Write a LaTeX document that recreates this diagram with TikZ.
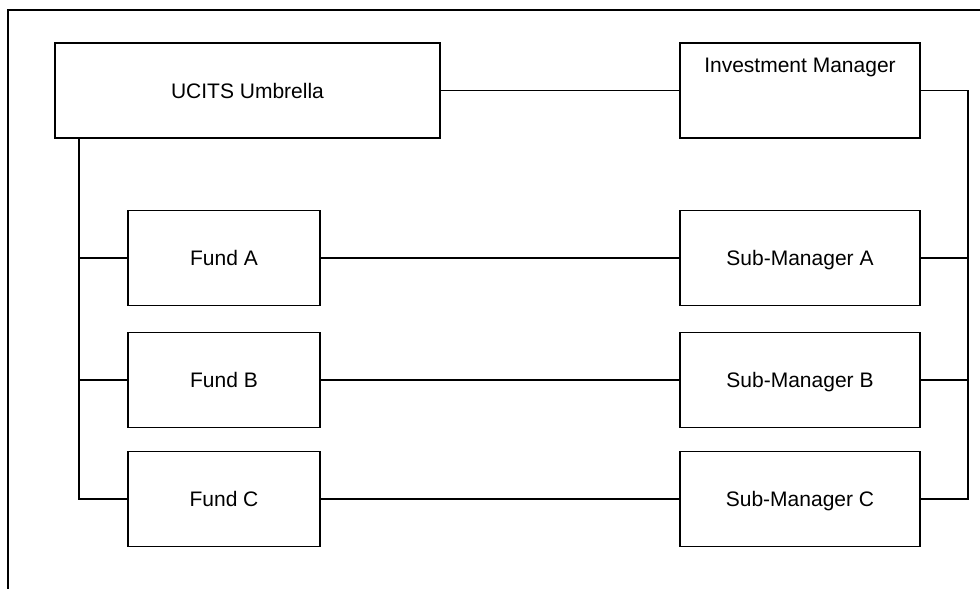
\documentclass[tikz,border=0pt]{standalone}
\usepackage{fontspec}
\setmainfont{Liberation Sans}
\begin{document}
\begin{tikzpicture}[x=1pt,y=-1pt,
  every node/.style={font=\fontsize{21}{25}\selectfont},
  box/.style={draw,line width=1.7pt,inner sep=0pt,minimum height=95pt,text height=15pt,text depth=0pt},
  fundbox/.style={box,minimum width=192pt},
  mgrbox/.style={box,minimum width=240pt},
  link/.style={line width=1.7pt}]
\useasboundingbox (0,0) rectangle (980,589);
% frame (top and left edges visible)
\coordinate (ftr) at (981,10);
\coordinate (ftl) at (8,10);
\coordinate (fbl) at (8,590);
\draw[link,line cap=rect] (ftr) -- (ftl) -- (fbl);
% boxes
\node[box,minimum width=385pt] (ucits) at (247.5,90.5) {UCITS Umbrella};
\node[mgrbox,text height=15pt,text depth=51pt] (im) at (800,90.5) {Investment Manager};
\node[fundbox] (fa) at (224,258) {Fund A};
\node[fundbox] (fb) at (224,380) {Fund B};
\node[fundbox] (fc) at (224,499) {Fund C};
\node[mgrbox] (sa) at (800,258) {Sub-Manager A};
\node[mgrbox] (sb) at (800,380) {Sub-Manager B};
\node[mgrbox] (sc) at (800,499) {Sub-Manager C};
% connectors
\draw[link] (ucits.east) -- (im.west);
\draw[link] (fa.east) -- (sa.west);
\draw[link] (fb.east) -- (sb.west);
\draw[link] (fc.east) -- (sc.west);
\coordinate (lx) at (79,0);
\coordinate (rx) at (968,0);
\draw[link] (ucits.south -| lx) -- (fc.west -| lx) -- (fc.west);
\draw[link] (fa.west -| lx) -- (fa.west);
\draw[link] (fb.west -| lx) -- (fb.west);
\draw[link] (im.east) -- (im.east -| rx) -- (sc.east -| rx) -- (sc.east);
\draw[link] (sa.east) -- (sa.east -| rx);
\draw[link] (sb.east) -- (sb.east -| rx);
\end{tikzpicture}
\end{document}
